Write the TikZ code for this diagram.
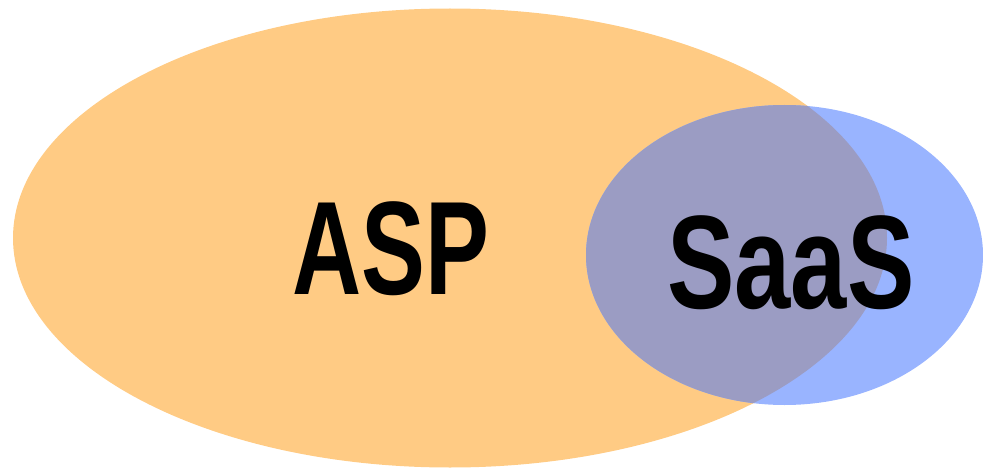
\documentclass[tikz,border=0pt]{standalone}
\usepackage{fontspec}
\setmainfont{Liberation Sans}
\definecolor{aspfill}{RGB}{255,203,132}
\definecolor{saasfill}{RGB}{153,180,255}
\definecolor{overlapfill}{RGB}{155,156,195}
\begin{document}
\begin{tikzpicture}[x=1pt,y=1pt,
  label/.style={inner sep=0pt, anchor=base, font=\bfseries\fontsize{133}{133}\selectfont}]
\useasboundingbox (0,0) rectangle (983,467);
\fill[aspfill] (450,229) ellipse [x radius=437, y radius=229.5];
\fill[saasfill] (784.5,212) ellipse [x radius=198.5, y radius=150];
\begin{scope}
  \clip (450,229) ellipse [x radius=437, y radius=229.5];
  \fill[overlapfill] (784.5,212) ellipse [x radius=198.5, y radius=150];
\end{scope}
\node[label, xscale=0.72] (asp) at (391,173) {ASP};
\node[label, xscale=0.76] (saas) at (791,159) {SaaS};
\end{tikzpicture}
\end{document}
